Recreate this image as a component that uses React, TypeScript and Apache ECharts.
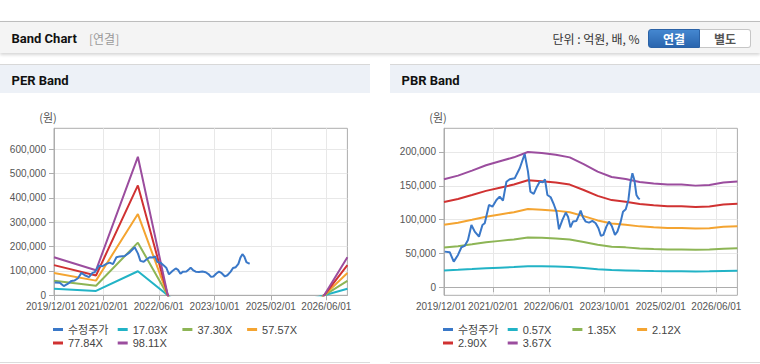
import React, { useEffect, useRef } from 'react';
import * as echarts from 'echarts';

// ---------- data ----------
const xMin = '2019-12-01';
const xMax = '2026-12-01';
const xLabelDates = ['2019-12-01', '2021-02-01', '2022-06-01', '2023-10-01', '2025-02-01', '2026-06-01'];

const priceName = '수정주가';
const priceDates = [
  '2019-12-07', '2020-01-20', '2020-02-24', '2020-04-01', '2020-05-01', '2020-05-29', '2020-06-27', '2020-07-27',
  '2020-08-25', '2020-10-01', '2020-10-31', '2020-11-20', '2020-12-27', '2021-01-26', '2021-03-02', '2021-03-30',
  '2021-04-28', '2021-05-28', '2021-06-26', '2021-08-08', '2021-09-21', '2021-11-03', '2021-12-02', '2021-12-23',
  '2022-01-21', '2022-02-18', '2022-03-14', '2022-04-12', '2022-04-29', '2022-05-20', '2022-06-18', '2022-07-17',
  '2022-08-07', '2022-08-29', '2022-09-28', '2022-10-27', '2022-11-16', '2022-12-07', '2022-12-29', '2023-01-28',
  '2023-02-20', '2023-03-06', '2023-03-26', '2023-04-19', '2023-05-18', '2023-06-16', '2023-07-15', '2023-08-08',
  '2023-08-30', '2023-09-20', '2023-10-16', '2023-11-08', '2023-12-02', '2023-12-30', '2024-01-20', '2024-02-18',
  '2024-03-09', '2024-04-02', '2024-04-25', '2024-05-12', '2024-05-30', '2024-06-16', '2024-07-04', '2024-07-21',
  '2024-08-02',
];
const priceValues = [
  52600, 51700, 37800, 47700, 59100, 61000, 69900, 92000,
  82200, 74800, 92000, 94600, 121600, 119100, 129000, 133900,
  128000, 156000, 159600, 161000, 175900, 197000, 170900, 141300,
  137900, 148700, 156000, 155200, 159600, 136400, 133000, 121600,
  111700, 85700, 99500, 110300, 104300, 88700, 97000, 98000,
  106900, 113200, 103500, 97000, 95500, 98000, 94600, 87200,
  75800, 77300, 89600, 97000, 90600, 77300, 82200, 97000,
  111700, 115300, 129000, 153700, 168500, 158600, 136400, 131500,
  130000,
];

// PER band: EPS (won) per fiscal year; null = no band drawn
const perDates = ['2019-12-01', '2020-12-01', '2021-12-01', '2022-12-01', '2024-06-01', '2025-12-01', '2026-12-01'];
const perEps: (number | null)[] = [1590, 1045, 5790, -2316, null, -1275, 1590];
const perMultiples = [17.03, 37.3, 57.57, 77.84, 98.11];
const perYTicks = [0, 100000, 200000, 300000, 400000, 500000, 600000];

// PBR band: BPS (won)
const pbrDates = [
  '2019-12-01', '2020-04-01', '2020-08-01', '2020-12-01', '2021-04-01', '2021-08-01', '2021-12-01', '2022-04-01',
  '2022-08-01', '2022-12-01', '2023-04-01', '2023-08-01', '2023-12-01', '2024-04-01', '2024-08-01', '2024-12-01',
  '2025-04-01', '2025-08-01', '2025-12-01', '2026-04-01', '2026-08-01', '2026-12-01',
];
const pbrBps = [
  43490, 44960, 46980, 49130, 50740, 52340, 54500, 54090,
  53410, 52320, 49590, 46590, 44410, 43620, 42430, 41740,
  41340, 41340, 40930, 41200, 42150, 42560,
];
const pbrMultiples = [0.57, 1.35, 2.12, 2.9, 3.67];
const pbrYTicks = [0, 50000, 100000, 150000, 200000];

const priceColor = '#3a78c8';
const bandColors = ['#22b3c6', '#8db555', '#f4a431', '#d03232', '#9b4d9e'];

// ---------- styles ----------
const KFONT = '"Liberation Sans", "Noto Sans CJK KR", sans-serif';
const CJK = '"Noto Sans CJK KR", "Liberation Sans", sans-serif';
const LAB = '"Liberation Sans", sans-serif';
const AXIS = '#adadad';
const GRIDC = '#e8e8e8';

function ts(d: string) {
  return Date.parse(d + 'T00:00:00Z');
}
function pad(n: number) {
  return n < 10 ? '0' + n : '' + n;
}
function fmtDate(v: number) {
  const d = new Date(v);
  return d.getUTCFullYear() + '/' + pad(d.getUTCMonth() + 1) + '/' + pad(d.getUTCDate());
}

function buildOption(
  bandDates: string[],
  base: (number | null)[],
  multiples: number[],
  yMin: number,
  yMax: number,
  yTicks: number[]
) {
  const bandNames = multiples.map((m) => m.toFixed(2) + 'X');
  const names = [priceName, ...bandNames];
  const xTicks = xLabelDates.map(ts);
  const legends = names.map((nm, i) => ({
    icon: 'rect',
    itemWidth: 10,
    itemHeight: 3,
    padding: 0,
    selectedMode: false,
    left: 53 + (i % 4) * 64.7,
    top: i < 4 ? 231 : 244.5,
    data: [nm],
    textStyle: { fontSize: 11, lineHeight: 11, color: '#444', fontFamily: KFONT },
  }));
  return {
    animation: false,
    textStyle: { fontFamily: KFONT },
    grid: {
      left: 54,
      top: 35.3,
      width: 293.4,
      height: 167,
      show: true,
      borderColor: AXIS,
      borderWidth: 1,
      backgroundColor: 'transparent',
    },
    xAxis: {
      type: 'value',
      min: ts(xMin),
      max: ts(xMax),
      axisLine: { show: true, lineStyle: { color: AXIS } },
      axisTick: { show: true, customValues: xTicks, length: 5, lineStyle: { color: AXIS } },
      axisLabel: {
        customValues: xTicks,
        showMinLabel: true,
        showMaxLabel: true,
        hideOverlap: false,
        formatter: (v: number) => (v === ts(xMin) ? '{f|' + fmtDate(v) + '}' : fmtDate(v)),
        color: '#555',
        fontSize: 10,
        fontFamily: LAB,
        margin: 6,
        rich: { f: { fontSize: 10, color: '#555', fontFamily: LAB, padding: [0, 6, 0, 0] } },
      },
      splitLine: { show: true, lineStyle: { color: GRIDC } },
    },
    yAxis: {
      type: 'value',
      min: yMin,
      max: yMax,
      name: '(원)',
      nameLocation: 'end',
      nameGap: 6,
      nameTextStyle: { color: '#555', fontSize: 11, fontFamily: CJK, align: 'center', padding: [0, 12, 0, 0] },
      axisLine: { show: true, lineStyle: { color: AXIS } },
      axisTick: { show: true, customValues: yTicks, length: 5, lineStyle: { color: AXIS } },
      axisLabel: {
        customValues: yTicks,
        formatter: (v: number) => v.toLocaleString('en-US'),
        color: '#555',
        fontSize: 10,
        fontFamily: LAB,
        margin: 8,
      },
      splitLine: { show: true, lineStyle: { color: GRIDC } },
    },
    legend: legends,
    series: [
      {
        name: priceName,
        type: 'line',
        data: priceDates.map((d, i) => [ts(d), priceValues[i]]),
        showSymbol: false,
        color: priceColor,
        itemStyle: { color: priceColor },
        lineStyle: { width: 2, color: priceColor },
        z: 3,
      },
      ...multiples.map((m, k) => ({
        name: bandNames[k],
        type: 'line',
        data: bandDates.map((d, i) => [ts(d), base[i] == null ? '-' : Math.round((base[i] as number) * m)]),
        showSymbol: false,
        connectNulls: false,
        color: bandColors[k],
        itemStyle: { color: bandColors[k] },
        lineStyle: { width: 2, color: bandColors[k] },
        z: 2,
      })),
    ],
  };
}

function Chart({ option, style }: { option: any; style: React.CSSProperties }) {
  const ref = useRef<HTMLDivElement>(null);
  useEffect(() => {
    if (!ref.current) return;
    const chart = echarts.init(ref.current, undefined, { renderer: 'svg' });
    chart.setOption(option);
    return () => chart.dispose();
  }, [option]);
  return <div ref={ref} style={style} />;
}

const perOption = buildOption(perDates, perEps, perMultiples, 0, 685000, perYTicks);
const pbrOption = buildOption(pbrDates, pbrBps, pbrMultiples, -12000, 235000, pbrYTicks);

function abs(left: number, top: number, extra: React.CSSProperties = {}): React.CSSProperties {
  return { position: 'absolute', left, top, whiteSpace: 'nowrap', ...extra };
}

function Panel({ left, title, option }: { left: number; title: string; option: any }) {
  return (
    <>
      <div
        style={abs(left, 64, {
          width: 370,
          height: 28.5,
          boxSizing: 'border-box',
          borderTop: '1px solid #d8d8d8',
          background: '#edf1f7',
        })}
      />
      <div
        style={abs(left + 11.5, 71.7, {
          height: 18,
          lineHeight: '18px',
          fontSize: 13,
          fontWeight: 700,
          fontFamily: 'Roboto, "Liberation Sans", sans-serif',
          color: '#111',
        })}
      >
        {title}
      </div>
      <Chart option={option} style={abs(left, 93, { width: 370, height: 269 })} />
      <div style={abs(left, 362, { width: 370, height: 1, background: '#dcdcdc' })} />
    </>
  );
}

export default function App() {
  return (
    <div
      style={{
        position: 'absolute',
        left: 0,
        top: 0,
        width: 760,
        height: 364,
        background: '#fff',
        overflow: 'hidden',
        fontFamily: KFONT,
      }}
    >
      <div
        style={abs(0, 21, {
          width: 760,
          height: 31.5,
          boxSizing: 'border-box',
          borderTop: '1px solid #bdbdbd',
          background: '#f4f4f4',
          boxShadow: '0 2px 3px rgba(0,0,0,0.16)',
        })}
      />
      <div
        style={abs(11.5, 29.7, {
          height: 18,
          lineHeight: '18px',
          fontSize: 13,
          fontWeight: 700,
          fontFamily: 'Roboto, "Liberation Sans", sans-serif',
          color: '#111',
        })}
      >
        Band Chart
      </div>
      <div style={abs(89, 29.7, { height: 18, lineHeight: '18px', fontSize: 12, fontFamily: CJK, color: '#999' })}>
        [연결]
      </div>
      <div style={abs(552.5, 29.7, { height: 18, lineHeight: '18px', fontSize: 12, fontFamily: CJK, color: '#333' })}>
        단위 : 억원, 배, %
      </div>
      <div
        style={abs(648, 28.7, {
          width: 52,
          height: 19.5,
          boxSizing: 'border-box',
          background: 'linear-gradient(#4487d0, #2a65ae)',
          border: '1px solid #2b62a6',
          borderRadius: '3px 0 0 3px',
          color: '#fff',
          fontWeight: 700,
          fontSize: 12,
          fontFamily: CJK,
          textAlign: 'center',
          lineHeight: '17px',
        })}
      >
        연결
      </div>
      <div
        style={abs(700, 28.7, {
          width: 51,
          height: 19.5,
          boxSizing: 'border-box',
          background: '#fff',
          border: '1px solid #c6c6c6',
          borderLeft: 'none',
          borderRadius: '0 3px 3px 0',
          color: '#555',
          fontWeight: 700,
          fontSize: 12,
          fontFamily: CJK,
          textAlign: 'center',
          lineHeight: '17px',
        })}
      >
        별도
      </div>
      <Panel left={0} title="PER Band" option={perOption} />
      <Panel left={390} title="PBR Band" option={pbrOption} />
    </div>
  );
}
